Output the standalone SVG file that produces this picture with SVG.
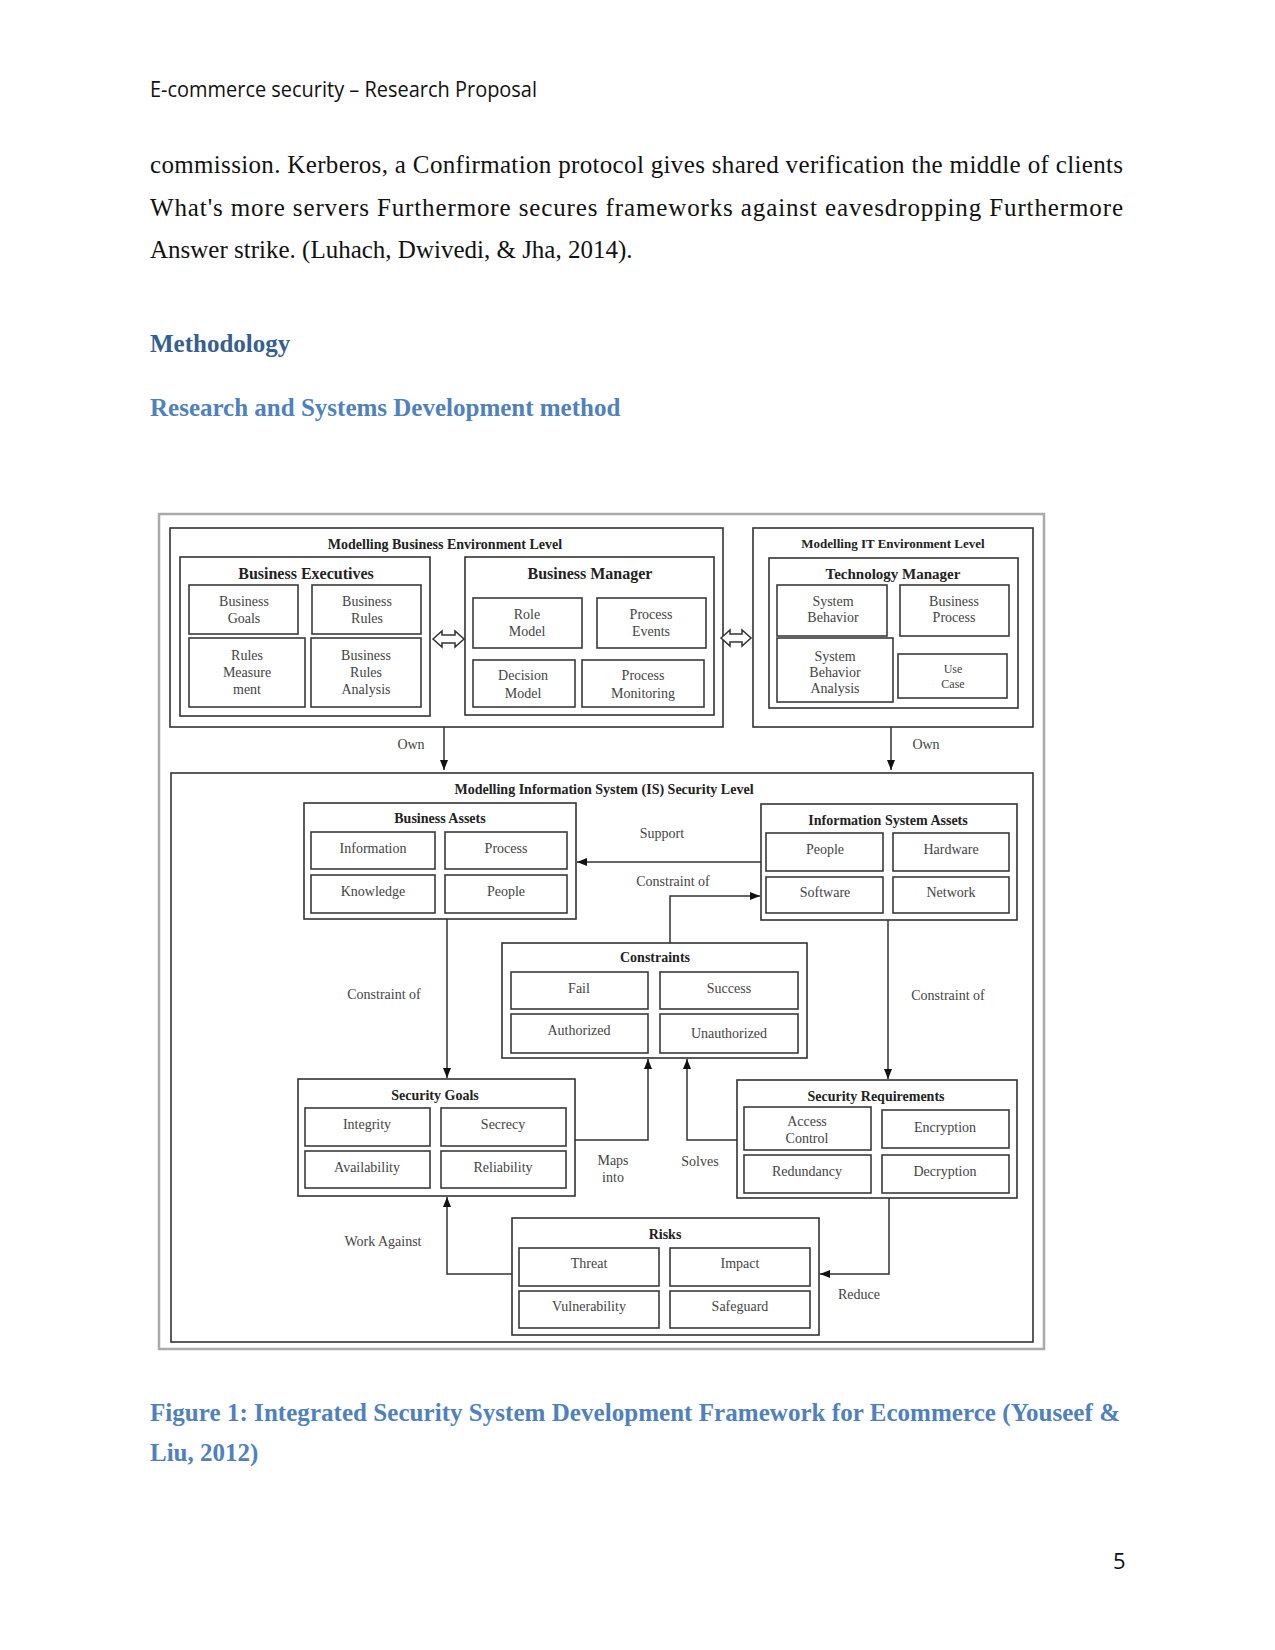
<svg xmlns="http://www.w3.org/2000/svg" width="1275" height="1650" viewBox="0 0 1275 1650">
<style>
.hdr{font-family:"Open Sans","Liberation Sans",sans-serif;font-size:21px;fill:#111}
.body{font-family:"Liberation Serif",serif;font-size:25px;fill:#111}
.h1{font-family:"Liberation Serif",serif;font-size:25px;font-weight:bold;fill:#365F91}
.h2{font-family:"Liberation Serif",serif;font-size:25px;font-weight:bold;fill:#4F81BD}
.box{fill:none;stroke:#333;stroke-width:1.6}
.sub{fill:#fff;stroke:#3a3a3a;stroke-width:1.6}
.ttl{font-family:"Liberation Serif",serif;font-weight:bold;font-size:14px;fill:#222;text-anchor:middle}
.ttl2{font-family:"Liberation Serif",serif;font-weight:bold;font-size:16px;fill:#222;text-anchor:middle}
.itm{font-family:"Liberation Serif",serif;font-size:14px;fill:#444;text-anchor:middle}
.lbl{font-family:"Liberation Serif",serif;font-size:14px;fill:#444;text-anchor:middle}
.con{fill:none;stroke:#333;stroke-width:1.5}
.dbl{fill:#fff;stroke:#333;stroke-width:1.5}
</style>
<defs>
<marker id="ah" markerUnits="userSpaceOnUse" markerWidth="10" markerHeight="10" viewBox="0 0 10 10" refX="10" refY="5" orient="auto">
<path d="M0,1 L10,5 L0,9 z" fill="#111"/>
</marker>
</defs>
<rect width="1275" height="1650" fill="#fff"/>

<text class="hdr" x="150" y="97" textLength="387" lengthAdjust="spacingAndGlyphs">E-commerce security – Research Proposal</text>
<text class="body" x="150" y="173" textLength="973" lengthAdjust="spacing">commission. Kerberos, a Confirmation protocol gives shared verification the middle of clients</text>
<text class="body" x="150" y="216" textLength="973" lengthAdjust="spacing">What's more servers Furthermore secures frameworks against eavesdropping Furthermore</text>
<text class="body" x="150" y="258">Answer strike. (Luhach, Dwivedi, &amp; Jha, 2014).</text>
<text class="h1" x="150" y="352">Methodology</text>
<text class="h2" x="150" y="416">Research and Systems Development method</text>

<rect x="159" y="514" width="885" height="835" fill="none" stroke="#aaa" stroke-width="2.5"/>

<g id="business-env">
<rect class="box" x="170" y="528" width="553" height="199"/>
<text class="ttl" x="445" y="549">Modelling Business Environment Level</text>
</g>
<g id="business-executives">
<rect class="box" x="180" y="557" width="250" height="159"/>
<text class="ttl2" x="306" y="579">Business Executives</text>
<rect class="sub" x="189" y="585" width="109" height="49"/>
<text class="itm" x="244" y="606"><tspan x="244">Business</tspan><tspan x="244" dy="17">Goals</tspan></text>
<rect class="sub" x="312" y="585" width="109" height="49"/>
<text class="itm" x="367" y="606"><tspan x="367">Business</tspan><tspan x="367" dy="17">Rules</tspan></text>
<rect class="sub" x="189" y="638" width="116" height="69"/>
<text class="itm" x="247" y="660"><tspan x="247">Rules</tspan><tspan x="247" dy="17">Measure</tspan><tspan x="247" dy="17">ment</tspan></text>
<rect class="sub" x="311" y="638" width="110" height="69"/>
<text class="itm" x="366" y="660"><tspan x="366">Business</tspan><tspan x="366" dy="17">Rules</tspan><tspan x="366" dy="17">Analysis</tspan></text>
</g>
<g id="business-manager">
<rect class="box" x="465" y="557" width="249" height="158"/>
<text class="ttl2" x="590" y="579">Business Manager</text>
<rect class="sub" x="473" y="598" width="109" height="50"/>
<text class="itm" x="527" y="619"><tspan x="527">Role</tspan><tspan x="527" dy="17">Model</tspan></text>
<rect class="sub" x="597" y="598" width="109" height="50"/>
<text class="itm" x="651" y="619"><tspan x="651">Process</tspan><tspan x="651" dy="17">Events</tspan></text>
<rect class="sub" x="473" y="660" width="102" height="47"/>
<text class="itm" x="523" y="680"><tspan x="523">Decision</tspan><tspan x="523" dy="18">Model</tspan></text>
<rect class="sub" x="582" y="660" width="122" height="47"/>
<text class="itm" x="643" y="680"><tspan x="643">Process</tspan><tspan x="643" dy="18">Monitoring</tspan></text>
</g>
<g id="it-env">
<rect class="box" x="753" y="528" width="280" height="199"/>
<text class="ttl" x="893" y="548" style="font-size:13px">Modelling IT Environment Level</text>
</g>
<g id="technology-manager">
<rect class="box" x="769" y="558" width="249" height="150"/>
<text class="ttl" x="893" y="579" style="font-size:15px">Technology Manager</text>
<rect class="sub" x="777" y="585" width="110" height="51"/>
<text class="itm" x="833" y="606"><tspan x="833">System</tspan><tspan x="833" dy="16">Behavior</tspan></text>
<rect class="sub" x="900" y="585" width="109" height="51"/>
<text class="itm" x="954" y="606"><tspan x="954">Business</tspan><tspan x="954" dy="16">Process</tspan></text>
<rect class="sub" x="777" y="638" width="116" height="64"/>
<text class="itm" x="835" y="661"><tspan x="835">System</tspan><tspan x="835" dy="16">Behavior</tspan><tspan x="835" dy="16">Analysis</tspan></text>
<rect class="sub" x="898" y="654" width="109" height="44"/>
<text class="itm" x="953" y="673" style="font-size:12px"><tspan x="953">Use</tspan><tspan x="953" dy="15">Case</tspan></text>
</g>
<g id="double-arrows">
<path class="dbl" d="M433,639 L442,631 L442,635 L455,635 L455,631 L464,639 L455,647 L455,643 L442,643 L442,647 Z"/>
<path class="dbl" d="M721,638 L730,630 L730,634 L742,634 L742,630 L751,638 L742,646 L742,642 L730,642 L730,646 Z"/>
</g>

<g id="is-security">
<rect class="box" x="171" y="773" width="862" height="569"/>
<text class="ttl" x="604" y="794">Modelling Information System (IS) Security Level</text>
</g>
<g id="business-assets">
<rect class="box" x="304" y="803" width="272" height="116"/>
<text class="ttl" x="440" y="823">Business Assets</text>
<rect class="sub" x="311" y="832" width="124" height="37"/>
<text class="itm" x="373" y="853">Information</text>
<rect class="sub" x="445" y="832" width="122" height="37"/>
<text class="itm" x="506" y="853">Process</text>
<rect class="sub" x="311" y="875" width="124" height="38"/>
<text class="itm" x="373" y="896">Knowledge</text>
<rect class="sub" x="445" y="875" width="122" height="38"/>
<text class="itm" x="506" y="896">People</text>
</g>
<g id="is-assets">
<rect class="box" x="761" y="804" width="256" height="116"/>
<text class="ttl" x="888" y="825">Information System Assets</text>
<rect class="sub" x="766" y="833" width="117" height="38"/>
<text class="itm" x="825" y="854">People</text>
<rect class="sub" x="893" y="833" width="116" height="38"/>
<text class="itm" x="951" y="854">Hardware</text>
<rect class="sub" x="766" y="877" width="117" height="36"/>
<text class="itm" x="825" y="897">Software</text>
<rect class="sub" x="893" y="877" width="116" height="36"/>
<text class="itm" x="951" y="897">Network</text>
</g>
<g id="constraints">
<rect class="box" x="502" y="943" width="305" height="115"/>
<text class="ttl" x="655" y="962">Constraints</text>
<rect class="sub" x="511" y="972" width="137" height="37"/>
<text class="itm" x="579" y="993">Fail</text>
<rect class="sub" x="660" y="972" width="138" height="37"/>
<text class="itm" x="729" y="993">Success</text>
<rect class="sub" x="511" y="1014" width="137" height="39"/>
<text class="itm" x="579" y="1035">Authorized</text>
<rect class="sub" x="660" y="1014" width="138" height="39"/>
<text class="itm" x="729" y="1038">Unauthorized</text>
</g>
<g id="security-goals">
<rect class="box" x="298" y="1079" width="277" height="117"/>
<text class="ttl" x="435" y="1100">Security Goals</text>
<rect class="sub" x="305" y="1108" width="125" height="38"/>
<text class="itm" x="367" y="1129">Integrity</text>
<rect class="sub" x="441" y="1108" width="125" height="38"/>
<text class="itm" x="503" y="1129">Secrecy</text>
<rect class="sub" x="305" y="1151" width="125" height="37"/>
<text class="itm" x="367" y="1172">Availability</text>
<rect class="sub" x="441" y="1151" width="125" height="37"/>
<text class="itm" x="503" y="1172">Reliability</text>
</g>
<g id="security-requirements">
<rect class="box" x="737" y="1080" width="280" height="118"/>
<text class="ttl" x="876" y="1101">Security Requirements</text>
<rect class="sub" x="744" y="1107" width="127" height="43"/>
<text class="itm" x="807" y="1126"><tspan x="807">Access</tspan><tspan x="807" dy="17">Control</tspan></text>
<rect class="sub" x="882" y="1110" width="127" height="38"/>
<text class="itm" x="945" y="1132">Encryption</text>
<rect class="sub" x="744" y="1155" width="127" height="38"/>
<text class="itm" x="807" y="1176">Redundancy</text>
<rect class="sub" x="882" y="1155" width="127" height="38"/>
<text class="itm" x="945" y="1176">Decryption</text>
</g>
<g id="risks">
<rect class="box" x="512" y="1218" width="307" height="117"/>
<text class="ttl" x="665" y="1239">Risks</text>
<rect class="sub" x="519" y="1248" width="140" height="38"/>
<text class="itm" x="589" y="1268">Threat</text>
<rect class="sub" x="670" y="1248" width="140" height="38"/>
<text class="itm" x="740" y="1268">Impact</text>
<rect class="sub" x="519" y="1291" width="140" height="37"/>
<text class="itm" x="589" y="1311">Vulnerability</text>
<rect class="sub" x="670" y="1291" width="140" height="37"/>
<text class="itm" x="740" y="1311">Safeguard</text>
</g>

<g id="connectors">
<path class="con" d="M444,727 V770" marker-end="url(#ah)"/>
<path class="con" d="M891,727 V770" marker-end="url(#ah)"/>
<path class="con" d="M761,862 H577" marker-end="url(#ah)"/>
<path class="con" d="M670,943 V896 H760" marker-end="url(#ah)"/>
<path class="con" d="M447,919 V1078" marker-end="url(#ah)"/>
<path class="con" d="M888,920 V1079" marker-end="url(#ah)"/>
<path class="con" d="M575,1140 H648 V1059" marker-end="url(#ah)"/>
<path class="con" d="M737,1140 H687 V1059" marker-end="url(#ah)"/>
<path class="con" d="M512,1274 H447 V1197" marker-end="url(#ah)"/>
<path class="con" d="M889,1198 V1274 H820" marker-end="url(#ah)"/>
<text class="lbl" x="411" y="749">Own</text>
<text class="lbl" x="926" y="749">Own</text>
<text class="lbl" x="662" y="838">Support</text>
<text class="lbl" x="673" y="886">Constraint of</text>
<text class="lbl" x="384" y="999">Constraint of</text>
<text class="lbl" x="948" y="1000">Constraint of</text>
<text class="lbl" x="613" y="1165"><tspan x="613">Maps</tspan><tspan x="613" dy="17">into</tspan></text>
<text class="lbl" x="700" y="1166">Solves</text>
<text class="lbl" x="383" y="1246">Work Against</text>
<text class="lbl" x="859" y="1299">Reduce</text>
</g>

<text class="h2" x="150" y="1421" textLength="970" lengthAdjust="spacing">Figure 1: Integrated Security System Development Framework for Ecommerce (Youseef &amp;</text>
<text class="h2" x="150" y="1461">Liu, 2012)</text>
<text class="hdr" x="1113" y="1569" style="font-size:22px">5</text>
</svg>
